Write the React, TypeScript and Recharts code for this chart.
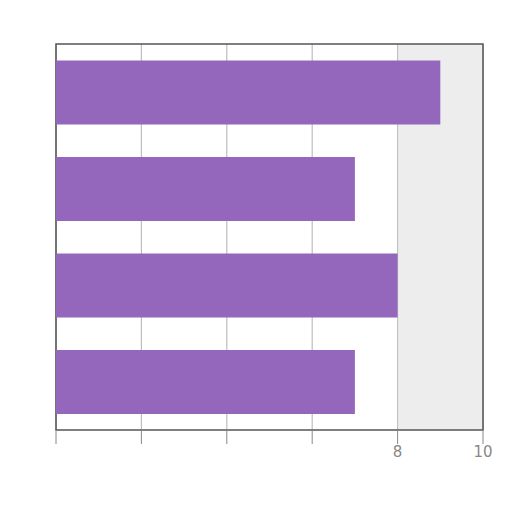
import React from 'react';
import {
  BarChart,
  Bar,
  XAxis,
  YAxis,
  CartesianGrid,
  ReferenceArea,
} from 'recharts';

const categories = ['A', 'B', 'C', 'D'];
const values = [9, 7, 8, 7];
const xTicks = [0, 2, 4, 6, 8, 10];
const xTickLabels = ['', '', '', '', '8', '10'];

const data = categories.map((name, i) => ({ name, value: values[i] }));

const App: React.FC = () => {
  return (
    <div style={{ width: 496, height: 480 }}>
      <BarChart
        width={496}
        height={480}
        data={data}
        layout="vertical"
        margin={{ top: 36, right: 21, left: 48, bottom: 18 }}
        barCategoryGap="17%"
      >
        <CartesianGrid horizontal={false} stroke="#bdbdbd" strokeWidth={1.2} />
        <ReferenceArea x1={8} x2={10} fill="#dcdcdc" fillOpacity={0.5} stroke="none" />
        <XAxis
          type="number"
          domain={[0, 10]}
          ticks={xTicks}
          axisLine={false}
          tickLine={{ stroke: '#888' }}
          tickSize={14}
          tick={{ fill: '#888', fontSize: 15, fontFamily: 'DejaVu Sans' }}
          tickFormatter={(v: number) => xTickLabels[xTicks.indexOf(v)] ?? ''}
          height={40}
        />
        <YAxis type="category" dataKey="name" hide />
        <Bar dataKey="value" fill="#9467bd" isAnimationActive={false} />
        <ReferenceArea x1={0} x2={10} fill="none" stroke="#555" strokeWidth={1.5} />
      </BarChart>
    </div>
  );
};

export default App;
